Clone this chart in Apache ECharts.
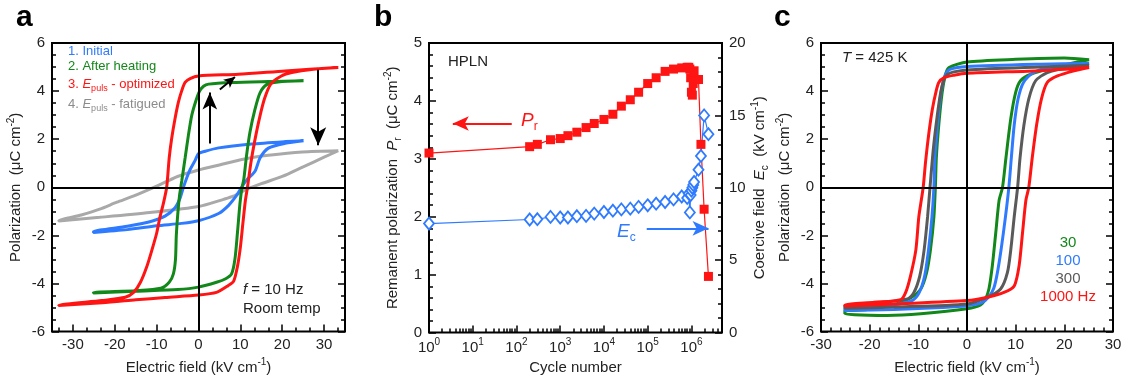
<!DOCTYPE html>
<html>
<head>
<meta charset="utf-8">
<script src="https://cdn.jsdelivr.net/npm/echarts@6/dist/echarts.min.js"></script>
<style>
  html, body { margin: 0; padding: 0; background: #fff; }
  #chart { width: 1128px; height: 380px; }
</style>
</head>
<body>
<div id="chart"></div>
<script>
// panel a: hysteresis loops, [E (kV/cm), P (uC/cm2)], falling branch then rising branch
var aInitial = [
  [25.1, 1.94], [20.7, 1.9], [12.7, 1.8], [4.8, 1.64], [1.6, 1.5], [0, 1.4], [-0.8, 1.12], [-2, 0.74], [-2.8, 0.4], [-3.6, 0],
  [-4.4, -0.45], [-5.6, -0.85], [-8, -1.2], [-11, -1.4], [-17, -1.62], [-25.1, -1.85],
  [-25.1, -1.88], [-17, -1.76], [-10, -1.6], [-4, -1.5], [0, -1.39], [4.8, -1.09], [7.2, -0.75], [9.1, -0.34], [10.3, 0],
  [11.5, 0.3], [13.5, 0.67], [14.7, 1.22], [16.7, 1.63], [20.7, 1.83], [25.1, 1.94]
];
var aHeated = [
  [25.1, 4.43], [16.7, 4.4], [7.9, 4.36], [2.4, 4.29], [1.2, 4.2], [0.2, 3.98], [-0.6, 3.61], [-1.6, 3.0], [-2.4, 2.18],
  [-3.2, 1.22], [-4.0, 0.26], [-4.5, -0.3], [-4.9, -1.0], [-5.3, -2.0], [-5.5, -3.0], [-6.0, -3.6], [-7.0, -3.95],
  [-9, -4.2], [-15, -4.3], [-25.1, -4.37],
  [-25.1, -4.4], [-15, -4.32], [-5, -4.25], [0, -4.15], [4.3, -3.95], [6.5, -3.8], [7.9, -3.6], [8.7, -2.99], [9.3, -1.9],
  [9.9, -0.68], [10.4, 0], [10.8, 0.3], [11.5, 1.35], [12.3, 2.3], [13.5, 3.25], [14.7, 3.93], [16.3, 4.27], [19.0, 4.38], [25.1, 4.43]
];
var aOptimized = [
  [33.4, 4.98], [20.7, 4.84], [9.5, 4.70], [0, 4.63], [-2.0, 4.52], [-3.2, 4.36], [-4.0, 4.02], [-4.8, 3.54], [-5.6, 2.86],
  [-6.4, 2.04], [-7.0, 1.22], [-7.6, 0], [-8.4, -0.68], [-9.2, -1.23], [-10.0, -1.91], [-11.1, -2.59], [-12.3, -3.27],
  [-13.9, -3.96], [-15.5, -4.37], [-17.5, -4.57], [-23.1, -4.71], [-33.4, -4.91],
  [-33.4, -4.93], [-23, -4.8], [-15, -4.68], [-8, -4.58], [0, -4.48], [4.3, -4.37], [7.0, -4.1], [8.4, -3.9], [9.3, -3.3],
  [10.0, -2.5], [10.6, -1.5], [11.2, -0.55], [11.7, 0], [12.5, 1.0], [13.4, 1.9], [14.6, 2.9], [15.8, 3.7], [17.3, 4.3],
  [19.8, 4.63], [22.3, 4.77], [27, 4.9], [33.4, 4.98]
];
var aFatigued = [
  [33.4, 1.52], [24.8, 1.47], [16.7, 1.33], [11, 1.18], [5, 0.93], [0, 0.72], [-5, 0.45], [-10, 0.05], [-15.6, -0.37],
  [-19.5, -0.62], [-23.6, -0.91], [-28, -1.15], [-33.4, -1.4],
  [-33.4, -1.42], [-23.6, -1.25], [-11.6, -1.05], [0, -0.8], [6, -0.5], [8.3, -0.37], [11.7, -0.07], [15, 0.15],
  [20, 0.45], [25, 0.85], [30, 1.25], [33.4, 1.52]
];

// panel b: fatigue, shared cycle numbers
var cycles = [1, 200, 300, 600, 1000, 1500, 2400, 3900, 6000, 1e4, 1.6e4, 2.5e4, 4e4, 6.2e4, 1e5, 1.56e5, 2.5e5, 3.9e5,
  6e5, 8e5, 8.7e5, 9.2e5, 9.6e5, 1e6, 1.05e6, 1.1e6, 1.15e6, 1.45e6, 1.65e6, 1.95e6, 2.45e6];
var remanent = [3.10, 3.21, 3.25, 3.33, 3.35, 3.40, 3.46, 3.54, 3.61, 3.68, 3.77, 3.91, 4.02, 4.15, 4.30, 4.40, 4.51, 4.55,
  4.57, 4.58, 4.58, 4.55, 4.40, 4.15, 4.10, 4.30, 4.52, 4.37, 3.25, 2.13, 0.97];
var coercive = [7.53, 7.81, 7.83, 7.99, 7.95, 7.95, 8.04, 8.06, 8.22, 8.33, 8.42, 8.51, 8.56, 8.68, 8.79, 8.90, 9.02, 9.20,
  9.40, 9.30, 9.60, 8.30, 9.50, 9.80, 10.0, 10.2, 10.4, 11.25, 12.2, 15.0, 13.7];

// panel c: loops at 425 K for several frequencies
var c30 = [
  [25.1, 5.30], [20, 5.38], [10, 5.32], [0, 5.21], [-3.7, 4.98], [-4.4, 4.7], [-5.1, 3.95], [-5.8, 2.59], [-6.3, 1.22],
  [-6.5, 0], [-6.8, -1.23], [-7.5, -2.59], [-8.3, -3.55], [-9.5, -4.23], [-11.6, -4.6], [-15, -4.88], [-20.5, -5.08], [-25.1, -5.15],
  [-25.1, -5.26], [-16.4, -5.33], [-9.5, -5.26], [0, -5.05], [2.8, -4.89], [3.8, -4.64], [4.5, -4.23], [5.2, -3.27],
  [5.9, -1.91], [6.6, -0.54], [7.3, 0], [8.0, 1.22], [9.0, 2.86], [10.0, 3.95], [11.0, 4.43], [13.1, 4.70], [17.9, 4.98],
  [22, 5.18], [25.1, 5.30]
];
var c100 = [
  [25.1, 5.15], [15, 5.12], [0, 5.02], [-3.5, 4.9], [-4.4, 4.7], [-5.0, 4.3], [-5.5, 3.7], [-6.1, 2.5], [-6.6, 1.2],
  [-6.8, 0], [-7.2, -1.23], [-7.9, -2.59], [-8.7, -3.68], [-9.8, -4.37], [-11.2, -4.7], [-15, -4.88], [-20, -4.97], [-25.1, -5.05],
  [-25.1, -5.12], [-15, -5.08], [-5, -5.0], [0, -4.93], [3, -4.8], [4.5, -4.55], [5.5, -4.2], [6.2, -3.6], [7.0, -2.6],
  [7.9, -1.23], [8.6, 0], [9.1, 1.2], [9.7, 2.59], [10.5, 3.68], [11.6, 4.36], [13.5, 4.75], [17, 4.98], [25.1, 5.15]
];
var c300 = [
  [25.1, 5.07], [15, 5.0], [0, 4.88], [-2.7, 4.8], [-4.0, 4.7], [-4.7, 4.5], [-5.4, 3.95], [-6.1, 3.0], [-6.9, 1.63],
  [-7.6, 0], [-8.1, -1.23], [-8.8, -2.59], [-9.7, -3.68], [-10.9, -4.37], [-12.2, -4.64], [-19.1, -4.82], [-25.1, -4.93],
  [-25.1, -5.03], [-15, -4.98], [0, -4.85], [4.2, -4.57], [6.9, -4.23], [8.3, -3.55], [9.0, -2.59], [9.7, -1.23],
  [10.4, 0], [10.9, 1.22], [11.7, 2.59], [12.7, 3.68], [14.1, 4.43], [16.5, 4.77], [20.7, 4.98], [25.1, 5.07]
];
var c1000 = [
  [25.1, 4.98], [15, 4.85], [0, 4.74], [-2.7, 4.66], [-4.7, 4.56], [-5.8, 4.36], [-6.4, 3.95], [-7.1, 3.27], [-7.8, 2.31],
  [-8.5, 1.09], [-9.0, 0], [-9.9, -1.23], [-10.5, -2.59], [-11.6, -3.68], [-12.6, -4.37], [-13.6, -4.67], [-19.1, -4.78], [-25.1, -4.89],
  [-25.1, -4.94], [-15, -4.85], [0, -4.71], [4.2, -4.57], [7.6, -4.37], [9.7, -4.1], [10.7, -3.27], [11.4, -1.91],
  [12.1, -0.54], [12.7, 0], [13.4, 1.22], [14.3, 2.59], [15.3, 3.68], [16.5, 4.36], [18.6, 4.63], [22, 4.84], [25.1, 4.98]
];

// tick labels
var aTicksX = [-30, -20, -10, 0, 10, 20, 30];
var cTicksX = [-30, -20, -10, 0, 10, 20, 30];

var FONT = '"Liberation Sans", Arial, sans-serif';
var INK = '#222';
var BLUE = '#2f7bff', GREEN = '#13881a', RED = '#ff1414', GREY = '#a9a9a9', DARK = '#5a5a5a';

// minor ticks of panel a every 10/3, panel b at 2..9 per decade
var aMinor = [];
for (var v = -40; v <= 30; v += 10) {
  for (var j = 1; j <= 2; j++) {
    var t = v + j * 10 / 3;
    if (t > -35 && t < 35) aMinor.push(t);
  }
}
var bMinor = [];
for (var d = 0; d <= 6; d++) {
  for (var k = 2; k <= 9; k++) {
    var m = k * Math.pow(10, d);
    if (m < 5e6) bMinor.push(m);
  }
}

var rich = {
  n: { fontSize: 15, fontFamily: FONT, color: INK, lineHeight: 20 },
  i: { fontSize: 15, fontFamily: FONT, color: INK, fontStyle: 'italic', lineHeight: 20 },
  s: { fontSize: 10, fontFamily: FONT, color: INK, lineHeight: 12, verticalAlign: 'top' },
  b: { fontSize: 10, fontFamily: FONT, color: INK, lineHeight: 12, verticalAlign: 'bottom' }
};
var labelStyle = { color: INK, fontSize: 15, fontFamily: FONT };
var tickStyle = { color: '#000', width: 1.5 };

function yAxisLin(grid, min, max, interval, split, pos, labels, name, gap) {
  return {
    gridIndex: grid, type: 'value', min: min, max: max, interval: interval, position: pos,
    axisLine: { show: false, onZero: false },
    axisTick: { inside: true, length: 7, lineStyle: tickStyle },
    minorTick: { show: true, splitNumber: split, length: 4, lineStyle: tickStyle },
    splitLine: { show: false },
    axisLabel: Object.assign({ show: labels, margin: 7 }, labelStyle),
    name: name || '', nameLocation: 'middle', nameGap: gap || 0,
    nameTextStyle: { rich: rich, fontSize: 15, color: INK, fontFamily: FONT }
  };
}

var zeroLines = {
  silent: true, symbol: 'none', label: { show: false },
  lineStyle: { color: '#000', width: 2, type: 'solid' },
  data: [{ xAxis: 0 }, { yAxis: 0 }]
};

function loop(name, data, color, xi, yi, extra) {
  return Object.assign({
    name: name, type: 'line', xAxisIndex: xi, yAxisIndex: yi, data: data,
    showSymbol: false, smooth: 0.25, lineStyle: { color: color, width: 3 }, itemStyle: { color: color }
  }, extra || {});
}

var chart = echarts.init(document.getElementById('chart'));

var option = {
  animation: false,
  backgroundColor: '#fff',
  grid: [
    { left: 52, top: 43, width: 293, height: 293, show: true, borderColor: '#000', borderWidth: 2 },
    { left: 429, top: 43, width: 293, height: 293, show: true, borderColor: '#000', borderWidth: 2 },
    { left: 821, top: 43, width: 292, height: 293, show: true, borderColor: '#000', borderWidth: 2 }
  ],
  xAxis: [
    {
      gridIndex: 0, type: 'value', min: -35, max: 35, position: 'bottom',
      axisLine: { show: false, onZero: false }, splitLine: { show: false },
      axisTick: { inside: true, length: 7, lineStyle: tickStyle, customValues: aTicksX },
      axisLabel: Object.assign({ customValues: aTicksX, margin: 6 }, labelStyle),
      name: '{n|Electric field (kV cm}{s|-1}{n|)}', nameLocation: 'middle', nameGap: 24,
      nameTextStyle: { rich: rich }
    },
    {
      gridIndex: 0, type: 'value', min: -35, max: 35, position: 'bottom',
      axisLine: { show: false, onZero: false }, splitLine: { show: false }, axisLabel: { show: false },
      axisTick: { inside: true, length: 4, lineStyle: tickStyle, customValues: aMinor }
    },
    {
      gridIndex: 1, type: 'log', logBase: 10, min: 1, max: 5e6, position: 'bottom',
      axisLine: { show: false, onZero: false }, splitLine: { show: false },
      axisTick: { inside: true, length: 7, lineStyle: tickStyle },
      axisLabel: {
        margin: 5, showMaxLabel: false, rich: rich,
        formatter: function (val) {
          var e = Math.round(Math.log10(val));
          if (Math.abs(val - Math.pow(10, e)) > 1e-6 * val) return '';
          return '{n|10}{s|' + e + '}';
        }
      },
      name: 'Cycle number', nameLocation: 'middle', nameGap: 27,
      nameTextStyle: { fontSize: 15, color: INK, fontFamily: FONT }
    },
    {
      gridIndex: 1, type: 'log', logBase: 10, min: 1, max: 5e6, position: 'bottom',
      axisLine: { show: false, onZero: false }, splitLine: { show: false }, axisLabel: { show: false },
      axisTick: { inside: true, length: 4, lineStyle: tickStyle, customValues: bMinor }
    },
    {
      gridIndex: 2, type: 'value', min: -30, max: 30, interval: 10, position: 'bottom',
      axisLine: { show: false, onZero: false }, splitLine: { show: false },
      axisTick: { inside: true, length: 7, lineStyle: tickStyle },
      minorTick: { show: true, splitNumber: 5, length: 4, lineStyle: tickStyle },
      axisLabel: Object.assign({ margin: 6 }, labelStyle),
      name: '{n|Electric field (kV cm}{s|-1}{n|)}', nameLocation: 'middle', nameGap: 24,
      nameTextStyle: { rich: rich }
    }
  ],
  yAxis: [
    yAxisLin(0, -6, 6, 2, 4, 'left', true, '{n|Polarization  (μC cm}{s|-2}{n|)}', 26),
    yAxisLin(0, -6, 6, 2, 4, 'right', false),
    yAxisLin(1, 0, 5, 1, 5, 'left', true, '{n|Remanent polarization  }{i|P}{b|r}{n|  (μC cm}{s|-2}{n|)}', 26),
    yAxisLin(1, 0, 20, 5, 5, 'right', true, '{n|Coercive field  }{i|E}{b|c}{n|  (kV cm}{s|-1}{n|)}', 28),
    yAxisLin(2, -6, 6, 2, 4, 'left', true, '{n|Polarization  (μC cm}{s|-2}{n|)}', 26),
    yAxisLin(2, -6, 6, 2, 4, 'right', false)
  ],
  series: [
    loop('4. fatigued', aFatigued, GREY, 0, 0, { markLine: zeroLines }),
    loop('1. Initial', aInitial, BLUE, 0, 0),
    loop('2. After heating', aHeated, GREEN, 0, 0),
    loop('3. optimized', aOptimized, RED, 0, 0, {
      markLine: {
        silent: true, symbol: ['none', 'arrow'], label: { show: false },
        lineStyle: { color: '#000', width: 2, type: 'solid' },
        data: [
          [{ coord: [2.7, 1.82] }, { coord: [2.7, 3.94], symbolSize: [11, 17] }],
          [{ coord: [5.1, 4.07] }, { coord: [8.7, 4.59], symbolSize: [8, 11] }],
          [{ coord: [28.6, 4.89] }, { coord: [28.6, 1.75], symbolSize: [12, 18] }]
        ]
      }
    }),
    {
      name: 'Ec', type: 'line', xAxisIndex: 2, yAxisIndex: 3,
      data: cycles.map(function (c, i) { return [c, coercive[i]]; }),
      symbol: 'diamond', symbolSize: [10, 12],
      itemStyle: { color: '#fff', borderColor: BLUE, borderWidth: 1.8 },
      lineStyle: { color: BLUE, width: 1.2 },
      markLine: {
        silent: true, symbol: ['none', 'arrow'], symbolSize: [11, 16], label: { show: false },
        lineStyle: { color: BLUE, width: 2, type: 'solid' },
        data: [[{ coord: [9.5e4, 7.2] }, { coord: [2.46e6, 7.2] }]]
      }
    },
    {
      name: 'Pr', type: 'line', xAxisIndex: 2, yAxisIndex: 2,
      data: cycles.map(function (c, i) { return [c, remanent[i]]; }),
      symbol: 'rect', symbolSize: 9,
      itemStyle: { color: RED },
      lineStyle: { color: RED, width: 1.2 },
      markLine: {
        silent: true, symbol: ['none', 'arrow'], symbolSize: [11, 16], label: { show: false },
        lineStyle: { color: RED, width: 2, type: 'solid' },
        data: [[{ coord: [78, 3.61] }, { coord: [3.5, 3.61] }]]
      }
    },
    loop('30', c30, GREEN, 4, 4, { markLine: zeroLines }),
    loop('100', c100, BLUE, 4, 4),
    loop('300', c300, DARK, 4, 4),
    loop('1000 Hz', c1000, RED, 4, 4)
  ],
  graphic: { elements: [
    { type: 'text', x: 16, y: 18, style: { text: 'a', font: 'bold 30px ' + FONT, fill: '#000', textVerticalAlign: 'middle', verticalAlign: 'middle' } },
    { type: 'text', x: 374, y: 18, style: { text: 'b', font: 'bold 30px ' + FONT, fill: '#000', textVerticalAlign: 'middle', verticalAlign: 'middle' } },
    { type: 'text', x: 774, y: 18, style: { text: 'c', font: 'bold 30px ' + FONT, fill: '#000', textVerticalAlign: 'middle', verticalAlign: 'middle' } },

    { type: 'text', x: 68, y: 51, style: { text: '1. Initial', font: '13px ' + FONT, fill: BLUE, textVerticalAlign: 'middle', verticalAlign: 'middle' } },
    { type: 'text', x: 68, y: 66, style: { text: '2. After heating', font: '13px ' + FONT, fill: GREEN, textVerticalAlign: 'middle', verticalAlign: 'middle' } },
    { type: 'text', x: 68, y: 84, style: {
      text: '{n|3. }{i|E}{b|puls}{n| - optimized}', fill: RED, textVerticalAlign: 'middle', verticalAlign: 'middle',
      rich: { n: { fontSize: 13, fontFamily: FONT, lineHeight: 18 }, i: { fontSize: 13, fontFamily: FONT, fontStyle: 'italic', lineHeight: 18 }, b: { fontSize: 9, fontFamily: FONT, lineHeight: 10, verticalAlign: 'bottom' } }
    } },
    { type: 'text', x: 68, y: 104, style: {
      text: '{n|4. }{i|E}{b|puls}{n| - fatigued}', fill: '#8c8c8c', textVerticalAlign: 'middle', verticalAlign: 'middle',
      rich: { n: { fontSize: 13, fontFamily: FONT, lineHeight: 18 }, i: { fontSize: 13, fontFamily: FONT, fontStyle: 'italic', lineHeight: 18 }, b: { fontSize: 9, fontFamily: FONT, lineHeight: 10, verticalAlign: 'bottom' } }
    } },
    { type: 'text', x: 243, y: 290, style: {
      text: '{i|f}{n| = 10 Hz}', fill: INK, textVerticalAlign: 'middle', verticalAlign: 'middle',
      rich: { n: { fontSize: 15, fontFamily: FONT }, i: { fontSize: 15, fontFamily: FONT, fontStyle: 'italic' } }
    } },
    { type: 'text', x: 243, y: 309, style: { text: 'Room temp', font: '15px ' + FONT, fill: INK, textVerticalAlign: 'middle', verticalAlign: 'middle' } },

    { type: 'text', x: 448, y: 62, style: { text: 'HPLN', font: '15px ' + FONT, fill: INK, textVerticalAlign: 'middle', verticalAlign: 'middle' } },
    { type: 'text', x: 521, y: 121, style: {
      text: '{i|P}{b|r}', fill: RED, textVerticalAlign: 'middle', verticalAlign: 'middle',
      rich: { i: { fontSize: 19, fontFamily: FONT, fontStyle: 'italic', lineHeight: 24 }, b: { fontSize: 12, fontFamily: FONT, lineHeight: 12, verticalAlign: 'bottom' } }
    } },
    { type: 'text', x: 617, y: 232, style: {
      text: '{i|E}{b|c}', fill: BLUE, textVerticalAlign: 'middle', verticalAlign: 'middle',
      rich: { i: { fontSize: 19, fontFamily: FONT, fontStyle: 'italic', lineHeight: 24 }, b: { fontSize: 12, fontFamily: FONT, lineHeight: 12, verticalAlign: 'bottom' } }
    } },

    { type: 'text', x: 842, y: 58, style: {
      text: '{i|T}{n| = 425 K}', fill: INK, textVerticalAlign: 'middle', verticalAlign: 'middle',
      rich: { n: { fontSize: 15, fontFamily: FONT }, i: { fontSize: 15, fontFamily: FONT, fontStyle: 'italic' } }
    } },
    { type: 'text', x: 1068, y: 243, style: { text: '30', font: '15px ' + FONT, fill: GREEN, textAlign: 'center', align: 'center', textVerticalAlign: 'middle', verticalAlign: 'middle' } },
    { type: 'text', x: 1068, y: 261, style: { text: '100', font: '15px ' + FONT, fill: BLUE, textAlign: 'center', align: 'center', textVerticalAlign: 'middle', verticalAlign: 'middle' } },
    { type: 'text', x: 1068, y: 279, style: { text: '300', font: '15px ' + FONT, fill: DARK, textAlign: 'center', align: 'center', textVerticalAlign: 'middle', verticalAlign: 'middle' } },
    { type: 'text', x: 1068, y: 297, style: { text: '1000 Hz', font: '15px ' + FONT, fill: RED, textAlign: 'center', align: 'center', textVerticalAlign: 'middle', verticalAlign: 'middle' } }
  ] }
};

chart.setOption(option);
</script>
</body>
</html>
